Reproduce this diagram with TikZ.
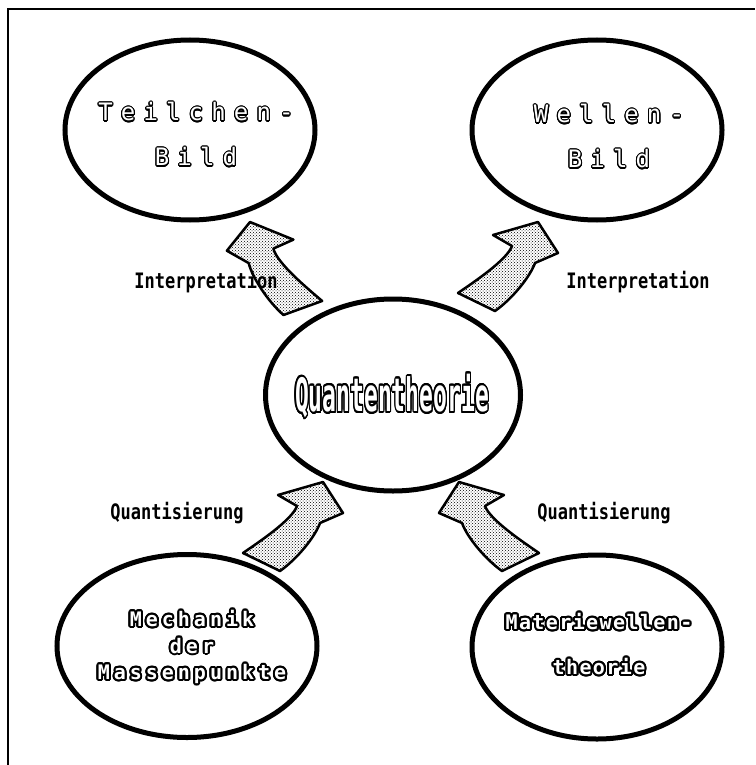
\documentclass[tikz,border=0pt]{standalone}
\usepackage{fontspec}
\usepackage{graphicx}
\usepackage{xcolor}
\usepackage{tikz}
\usepackage[copies]{contour}
\usetikzlibrary{shapes.geometric,patterns}

\newfontfamily\pixfont{DejaVu Sans Mono}
\contourlength{1.1pt}
\contournumber{24}

\newcommand{\hollow}[1]{\contour{black}{#1}}
\newcommand{\heavy}[1]{{\contourlength{2pt}\contour{black}{#1}}}
\newcommand{\bigarrow}{%
  \draw[arrowfill] (0,0) -- (20,31) -- (-3,41)
    .. controls (-8,55) and (-26,77) .. (-43,89)
    -- (-80,71)
    .. controls (-64,60) and (-31,38) .. (-26,24)
    -- (-45,13) -- cycle;}

\begin{document}
\begin{tikzpicture}[x=1pt,y=-1pt,
  bubble/.style={ellipse, draw, line width=5pt, minimum width=250pt, minimum height=180pt, inner sep=0pt},
  arrowfill/.style={line width=2.5pt, line join=round, pattern=crosshatch dots},
  tag/.style={font=\pixfont\bfseries\fontsize{17pt}{17pt}\selectfont},
  toptext/.style={align=center, text=white, font=\pixfont\addfontfeature{LetterSpace=34}\fontsize{24pt}{45pt}\selectfont},
  lowtext/.style={align=center, text=white, font=\pixfont\bfseries\fontsize{20pt}{26.5pt}\selectfont}]
\useasboundingbox (0,0) rectangle (755,765);
\draw[line width=1.8pt] (8,765) -- (8,9) -- (755,9);

% ellipses
\node[bubble] (teilchen) at (190,130) {};
\node[bubble] (wellen) at (597,130) {};
\node[bubble, minimum width=255pt, minimum height=192pt] (quanten) at (393,395) {};
\node[bubble, minimum width=260pt, minimum height=183pt] (mechanik) at (187,646) {};
\node[bubble, minimum height=184pt] (materie) at (597,647) {};

% texts in the ellipses
\node[toptext] (teilchen-txt) at (196,135) {\hollow{Teilchen-}\\\hollow{Bild}};
\node[toptext] (wellen-txt) at (609,137) {\hollow{Wellen-}\\\hollow{Bild}};
\node[text=white, font=\pixfont\bfseries\fontsize{23pt}{23pt}\selectfont] (quanten-txt) at (392,397)
  {\scalebox{1}[2]{\hollow{Quantentheorie}}};
\node[lowtext, font=\pixfont\bfseries\addfontfeature{LetterSpace=20}\fontsize{20pt}{26.5pt}\selectfont] (mechanik-txt) at (192,648)
  {\heavy{Mechanik}\\\heavy{der}\\\heavy{Massenpunkte}};
\node[lowtext, font=\pixfont\bfseries\addfontfeature{LetterSpace=7}\fontsize{20pt}{45pt}\selectfont] (materie-txt) at (599,645)
  {\heavy{Materiewellen-}\\\heavy{theorie}};

% arrows
\begin{scope}[shift={(538,222)}] \bigarrow \end{scope}
\begin{scope}[shift={(250,222)}, rotate=-6, xscale=-1] \bigarrow \end{scope}
\begin{scope}[shift={(323,482)}] \bigarrow \end{scope}
\begin{scope}[shift={(459,482)}, xscale=-1] \bigarrow \end{scope}

% labels
\node[tag] (interp-l) at (206,282) {\scalebox{1}[1.25]{Interpretation}};
\node[tag] (interp-r) at (638,282) {\scalebox{1}[1.25]{Interpretation}};
\node[tag] (quant-l) at (177,513) {\scalebox{1}[1.25]{Quantisierung}};
\node[tag] (quant-r) at (604,513) {\scalebox{1}[1.25]{Quantisierung}};
\end{tikzpicture}
\end{document}
